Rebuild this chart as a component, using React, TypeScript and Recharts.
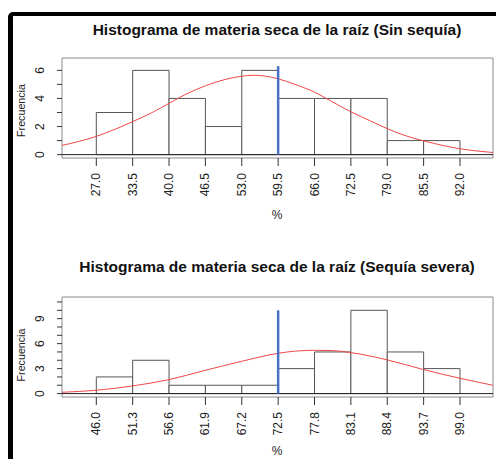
import React from "react"
import { ComposedChart, Line, XAxis, YAxis, ReferenceArea, ReferenceLine } from "recharts"

// --- Sin sequía ---
const TOP_EDGES = [27.0, 33.5, 40.0, 46.5, 53.0, 59.5, 66.0, 72.5, 79.0, 85.5, 92.0]
const TOP_COUNTS = [3, 6, 4, 2, 6, 4, 4, 4, 1, 1]
const TOP_Y_TICKS = [0, 1, 2, 3, 4, 5, 6]
const TOP_Y_LABELS = [0, 2, 4, 6]
const TOP_CURVE_X = [20.9, 24, 27, 30, 33.5, 37, 40, 43, 46.5, 50, 53, 55, 57, 59.5, 62.5, 66, 69, 72.5, 76, 79, 82, 85.5, 89, 92, 95, 97.9]
const TOP_CURVE_Y = [0.66, 0.95, 1.3, 1.75, 2.35, 3.0, 3.65, 4.3, 4.9, 5.35, 5.58, 5.65, 5.6, 5.4, 5.0, 4.45, 3.8, 3.05, 2.4, 1.85, 1.38, 0.98, 0.65, 0.42, 0.26, 0.15]
const TOP_MARK = 59.5
const TOP_MARK_HEIGHT = 6.3

// --- Sequía severa ---
const BOT_EDGES = [46.0, 51.3, 56.6, 61.9, 67.2, 72.5, 77.8, 83.1, 88.4, 93.7, 99.0]
const BOT_COUNTS = [2, 4, 1, 1, 1, 3, 5, 10, 5, 3]
const BOT_Y_TICKS = [0, 1, 2, 3, 4, 5, 6, 7, 8, 9, 10, 11]
const BOT_Y_LABELS = [0, 3, 6, 9]
const BOT_CURVE_X = [41.0, 46.0, 51.3, 56.6, 61.9, 67.2, 72.5, 75.0, 77.8, 80.5, 83.1, 88.4, 93.7, 99.0, 103.8]
const BOT_CURVE_Y = [0.16, 0.4, 0.92, 1.68, 2.8, 3.88, 4.84, 5.1, 5.2, 5.16, 4.92, 4.05, 2.88, 1.84, 1.0]
const BOT_MARK = 72.5
const BOT_MARK_HEIGHT = 10

const FONT = '"Liberation Sans", Arial, sans-serif'

function XTick(props: any) {
  const { x, y, payload } = props
  const ty = y + 5
  return (
    <text
      x={x}
      y={ty}
      transform={`rotate(-90, ${x}, ${ty})`}
      textAnchor="end"
      dominantBaseline="central"
      fontSize={12}
      fontFamily={FONT}
      fill="#222"
    >
      {Number(payload.value).toFixed(1)}
    </text>
  )
}

function YTick(props: any) {
  const { y, payload, labels } = props
  if (!labels.includes(payload.value)) return null
  const tx = 40
  return (
    <text
      x={tx}
      y={y}
      transform={`rotate(-90, ${tx}, ${y})`}
      textAnchor="middle"
      dominantBaseline="central"
      fontSize={12}
      fontFamily={FONT}
      fill="#222"
    >
      {payload.value}
    </text>
  )
}

function Histogram(p: {
  edges: number[]
  counts: number[]
  curveX: number[]
  curveY: number[]
  yTicks: number[]
  yLabels: number[]
  xDomain: [number, number]
  yDomain: [number, number]
  mark: number
  markTop: number
  height: number
  marginTop: number
  xAxisHeight: number
}) {
  const curve = p.curveX.map((x, i) => ({ x, y: p.curveY[i] }))
  return (
    <ComposedChart width={496} height={p.height} data={curve} margin={{ top: p.marginTop, right: 3, bottom: 0, left: 0 }}>
      <XAxis
        type="number"
        dataKey="x"
        domain={p.xDomain}
        ticks={p.edges}
        interval={0}
        allowDataOverflow
        axisLine={false}
        tickSize={8}
        tickLine={{ stroke: "#333" }}
        height={p.xAxisHeight}
        tick={(t: any) => <XTick {...t} />}
      />
      <YAxis
        type="number"
        domain={p.yDomain}
        ticks={p.yTicks}
        interval={0}
        allowDataOverflow
        axisLine={false}
        tickSize={5}
        tickLine={{ stroke: "#333" }}
        width={62}
        tick={(t: any) => <YTick {...t} labels={p.yLabels} />}
      />
      <ReferenceArea
        x1={p.xDomain[0]}
        x2={p.xDomain[1]}
        y1={p.yDomain[0]}
        y2={p.yDomain[1]}
        fill="none"
        stroke="#8a8a8a"
        ifOverflow="visible"
      />
      {p.counts.map((c, i) => (
        <ReferenceArea
          key={i}
          x1={p.edges[i]}
          x2={p.edges[i + 1]}
          y1={0}
          y2={c}
          fill="#fff"
          fillOpacity={1}
          stroke="#555"
          strokeWidth={1}
          ifOverflow="visible"
        />
      ))}
      <ReferenceLine y={0} stroke="#222" strokeWidth={1} ifOverflow="visible" />
      <Line type="monotone" dataKey="y" stroke="#f04848" strokeWidth={1} dot={false} isAnimationActive={false} />
      <ReferenceLine
        segment={[{ x: p.mark, y: 0 }, { x: p.mark, y: p.markTop }]}
        stroke="#4a72c4"
        strokeWidth={2.5}
        ifOverflow="visible"
      />
    </ComposedChart>
  )
}

export default function App() {
  return (
    <div style={{ position: "absolute", left: 0, top: 0, width: 496, height: 459, background: "#fff", overflow: "hidden", fontFamily: FONT }}>
      <div
        style={{
          position: "absolute",
          left: 8,
          top: 12,
          width: 520,
          height: 480,
          borderTop: "4px solid #000",
          borderLeft: "5px solid #000",
          borderTopLeftRadius: 5,
        }}
      />
      <div style={{ position: "absolute", left: 0, top: 0 }}>
        <Histogram
          edges={TOP_EDGES}
          counts={TOP_COUNTS}
          curveX={TOP_CURVE_X}
          curveY={TOP_CURVE_Y}
          yTicks={TOP_Y_TICKS}
          yLabels={TOP_Y_LABELS}
          xDomain={[20.87, 97.9]}
          yDomain={[-0.24, 6.88]}
          mark={TOP_MARK}
          markTop={TOP_MARK_HEIGHT}
          height={230}
          marginTop={58}
          xAxisHeight={72}
        />
      </div>
      <div style={{ position: "absolute", left: 0, top: 230 }}>
        <Histogram
          edges={BOT_EDGES}
          counts={BOT_COUNTS}
          curveX={BOT_CURVE_X}
          curveY={BOT_CURVE_Y}
          yTicks={BOT_Y_TICKS}
          yLabels={BOT_Y_LABELS}
          xDomain={[41.0, 103.81]}
          yDomain={[-0.41, 11.6]}
          mark={BOT_MARK}
          markTop={BOT_MARK_HEIGHT}
          height={229}
          marginTop={67}
          xAxisHeight={62}
        />
      </div>
      <svg width={496} height={459} style={{ position: "absolute", left: 0, top: 0, pointerEvents: "none" }} fontFamily={FONT}>
        <text x={277} y={29} textAnchor="middle" dominantBaseline="central" fontSize={15.5} fontWeight="bold" fill="#111">
          Histograma de materia seca de la raíz (Sin sequía)
        </text>
        <text x={277} y={215} textAnchor="middle" dominantBaseline="central" fontSize={12} fill="#222">%</text>
        <text x={21} y={110.5} transform="rotate(-90, 21, 110.5)" textAnchor="middle" dominantBaseline="central" fontSize={10.7} fill="#222">
          Frecuencia
        </text>
        <text x={277} y={266.7} textAnchor="middle" dominantBaseline="central" fontSize={15.5} fontWeight="bold" fill="#111">
          Histograma de materia seca de la raíz (Sequía severa)
        </text>
        <text x={277} y={451} textAnchor="middle" dominantBaseline="central" fontSize={12} fill="#222">%</text>
        <text x={21} y={355} transform="rotate(-90, 21, 355)" textAnchor="middle" dominantBaseline="central" fontSize={10.7} fill="#222">
          Frecuencia
        </text>
      </svg>
    </div>
  )
}
